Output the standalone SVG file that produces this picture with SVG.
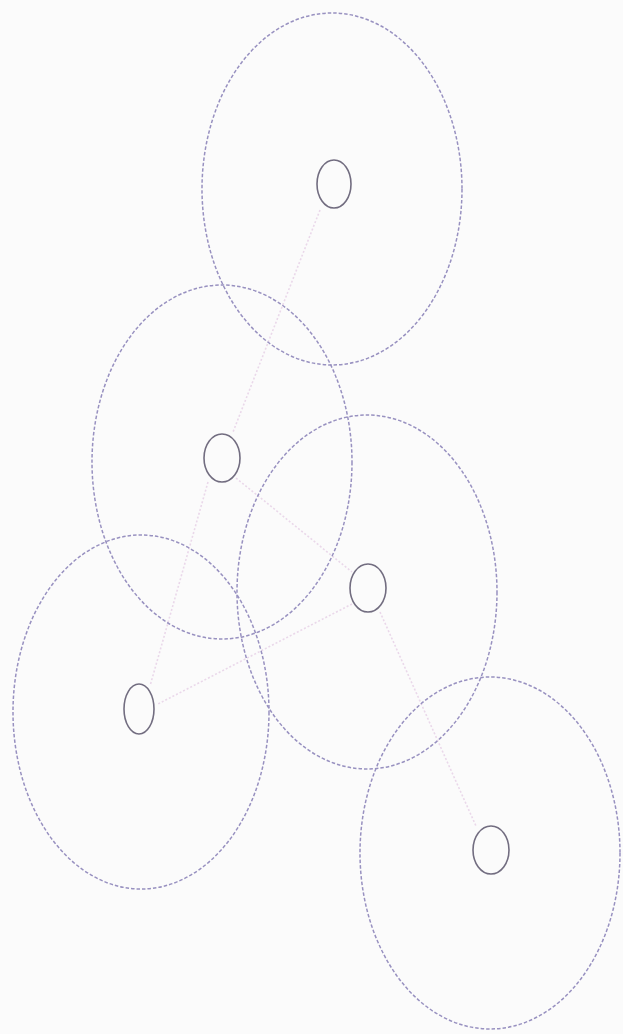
<svg xmlns="http://www.w3.org/2000/svg" width="623" height="1034" viewBox="0 0 623 1034">
<style>
.range{fill:none;stroke:#9891c0;stroke-width:1.5;stroke-dasharray:3.5 2;}
.node{fill:none;stroke:#726d80;stroke-width:1.6;}
.link{stroke:#ead8ea;stroke-width:1.6;stroke-dasharray:2 2;fill:none;}
</style>
<rect width="623" height="1034" fill="#fbfbfb"/>
<g id="connectors">
<line class="link" x1="320" y1="210" x2="233" y2="432"/>
<line class="link" x1="236" y1="478" x2="352" y2="572"/>
<line class="link" x1="208" y1="482" x2="150" y2="686"/>
<line class="link" x1="352" y1="604" x2="158" y2="704"/>
<line class="link" x1="380" y1="612" x2="476" y2="826"/>
</g>
<g id="n1"><ellipse class="range" cx="332" cy="189" rx="130" ry="176"/><ellipse class="node" cx="334" cy="184" rx="17" ry="24"/></g>
<g id="n2"><ellipse class="range" cx="222" cy="462" rx="130" ry="177"/><ellipse class="node" cx="222" cy="458" rx="18" ry="24"/></g>
<g id="n3"><ellipse class="range" cx="367" cy="592" rx="130" ry="177"/><ellipse class="node" cx="368" cy="588" rx="18" ry="24"/></g>
<g id="n4"><ellipse class="range" cx="141" cy="712" rx="128" ry="177"/><ellipse class="node" cx="139" cy="709" rx="15" ry="25"/></g>
<g id="n5"><ellipse class="range" cx="490" cy="853" rx="130" ry="176"/><ellipse class="node" cx="491" cy="850" rx="18" ry="24"/></g>
</svg>
